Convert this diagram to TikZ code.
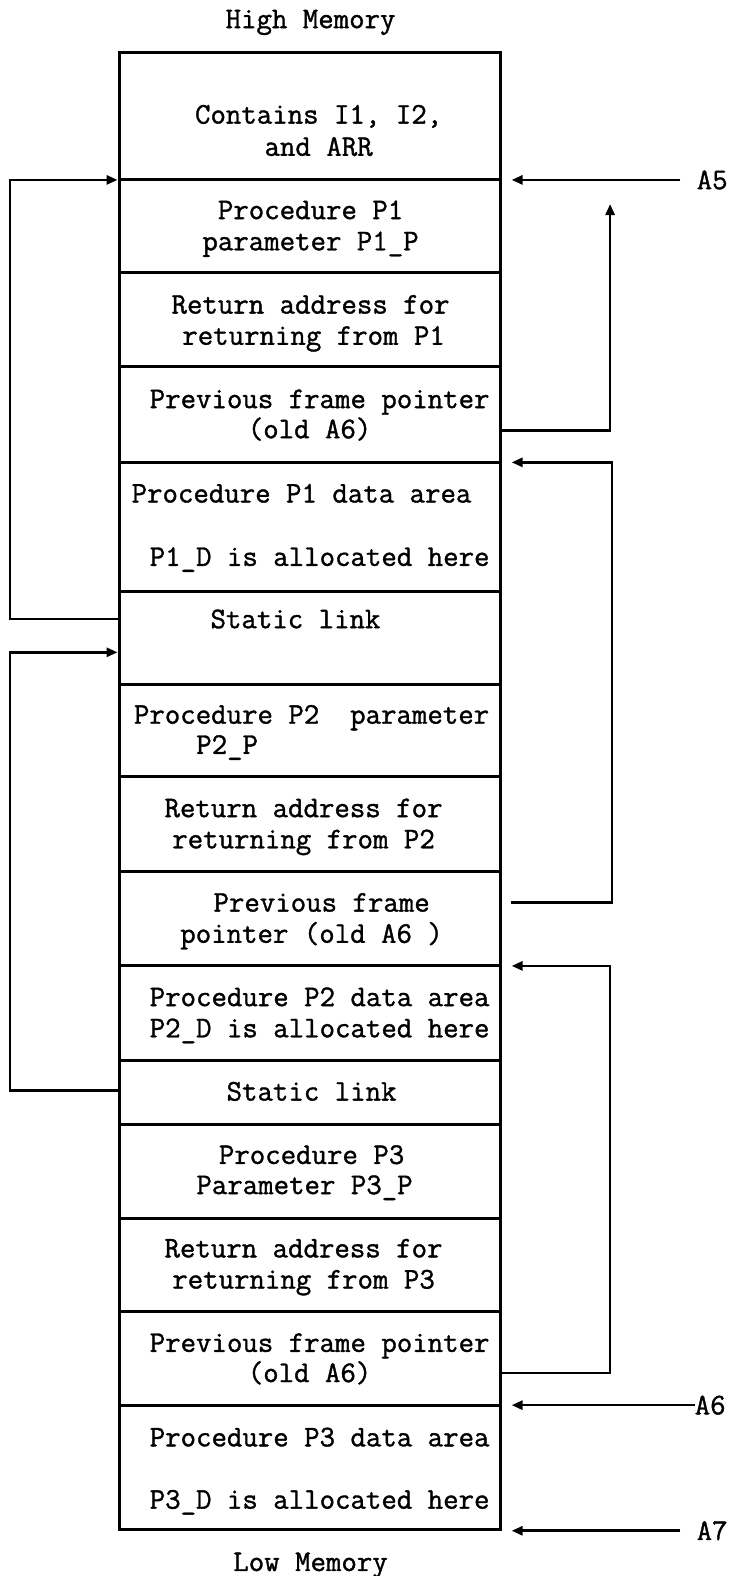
\documentclass[tikz,border=0pt]{standalone}
\usepackage{fontspec}
\usetikzlibrary{arrows.meta}
\newfontfamily\celltt[FakeBold=1.2]{Latin Modern Mono}
\newcommand\cellfont{\celltt\fontsize{30}{32}\selectfont}
\tikzset{
  txt/.style={font=\cellfont, inner sep=0pt, anchor=base},
  boxline/.style={line width=3pt},
  link/.style={line width=2.7pt, -{Triangle[length=11pt,width=9pt]}}
}
\begin{document}
\begin{tikzpicture}[x=1.0055pt,y=-1.0055pt]
\useasboundingbox (0,0) rectangle (731,1568);
% memory column
\draw[boxline] (119,52) rectangle (498,1522);
\foreach \yy in {179,271,365,460,588,681,773,867,961,1055,1119,1212,1305,1398}
  \draw[boxline] (119,\yy) -- (498,\yy);
% headings
\node[txt] (hi) at (309,28) {High Memory};
\node[txt] (lo) at (309,1563) {Low Memory};
% cell texts
\node[txt] (c1a) at (317,123) {Contains I1, I2,};
\node[txt] (c1b) at (317,155) {and ARR};
\node[txt] (c2a) at (309,218) {Procedure P1};
\node[txt] (c2b) at (309,249) {parameter P1\_P};
\node[txt] (c3a) at (309,312) {Return address for};
\node[txt] (c3b) at (312,343) {returning from P1};
\node[txt] (c4a) at (318,406) {Previous frame pointer};
\node[txt] (c4b) at (308,436) {(old A6)};
\node[txt] (c5a) at (300,500) {Procedure P1 data area};
\node[txt] (c5b) at (318,563) {P1\_D is allocated here};
\node[txt] (c6) at (294,625) {Static link};
\node[txt] (c7a) at (310,720) {Procedure P2\ \ parameter};
\node[txt] (c7b) at (226,750) {P2\_P};
\node[txt] (c8a) at (302,813) {Return address for};
\node[txt] (c8b) at (302,844) {returning from P2};
\node[txt] (c9a) at (320,907) {Previous frame};
\node[txt] (c9b) at (310,938) {pointer (old A6 )};
\node[txt] (c10a) at (318,1001) {Procedure P2 data area};
\node[txt] (c10b) at (318,1032) {P2\_D is allocated here};
\node[txt] (c11) at (310,1095) {Static link};
\node[txt] (c12a) at (310,1158) {Procedure P3};
\node[txt] (c12b) at (303,1188) {Parameter P3\_P};
\node[txt] (c13a) at (302,1251) {Return address for};
\node[txt] (c13b) at (302,1282) {returning from P3};
\node[txt] (c14a) at (318,1345) {Previous frame pointer};
\node[txt] (c14b) at (308,1375) {(old A6)};
\node[txt] (c15a) at (318,1439) {Procedure P3 data area};
\node[txt] (c15b) at (318,1501) {P3\_D is allocated here};
% register labels
\node[font=\cellfont, inner sep=0pt, anchor=west] (A5) at (693,179) {A5};
\node[font=\cellfont, inner sep=0pt, anchor=west] (A6) at (691,1398) {A6};
\node[font=\cellfont, inner sep=0pt, anchor=west] (A7) at (693,1523) {A7};
% connector points
\coordinate (sl1) at (119,616);
\coordinate (fr1) at (117,179);
\coordinate (sl2) at (119,1085);
\coordinate (fr2) at (117,649);
\coordinate (a5tip) at (509,179);
\coordinate (pf1) at (498,428);
\coordinate (up1) at (607,203);
\coordinate (pf2) at (508,898);
\coordinate (d1) at (509,460);
\coordinate (pf3) at (498,1366);
\coordinate (d2) at (509,961);
\coordinate (a6tip) at (509,1398);
\coordinate (a7tip) at (509,1523);
% left static links
\draw[link] (sl1) -- (10,616) |- (fr1);
\draw[link] (sl2) -- (10,1085) |- (fr2);
% right pointers
\draw[link] (677,179) -- (a5tip);
\draw[link] (pf1) -| (up1);
\draw[link] (pf2) -- (609,898) |- (d1);
\draw[link] (pf3) -- (607,1366) |- (d2);
\draw[link] (A6.west) -- (a6tip);
\draw[link] (677,1523) -- (a7tip);
\end{tikzpicture}
\end{document}
